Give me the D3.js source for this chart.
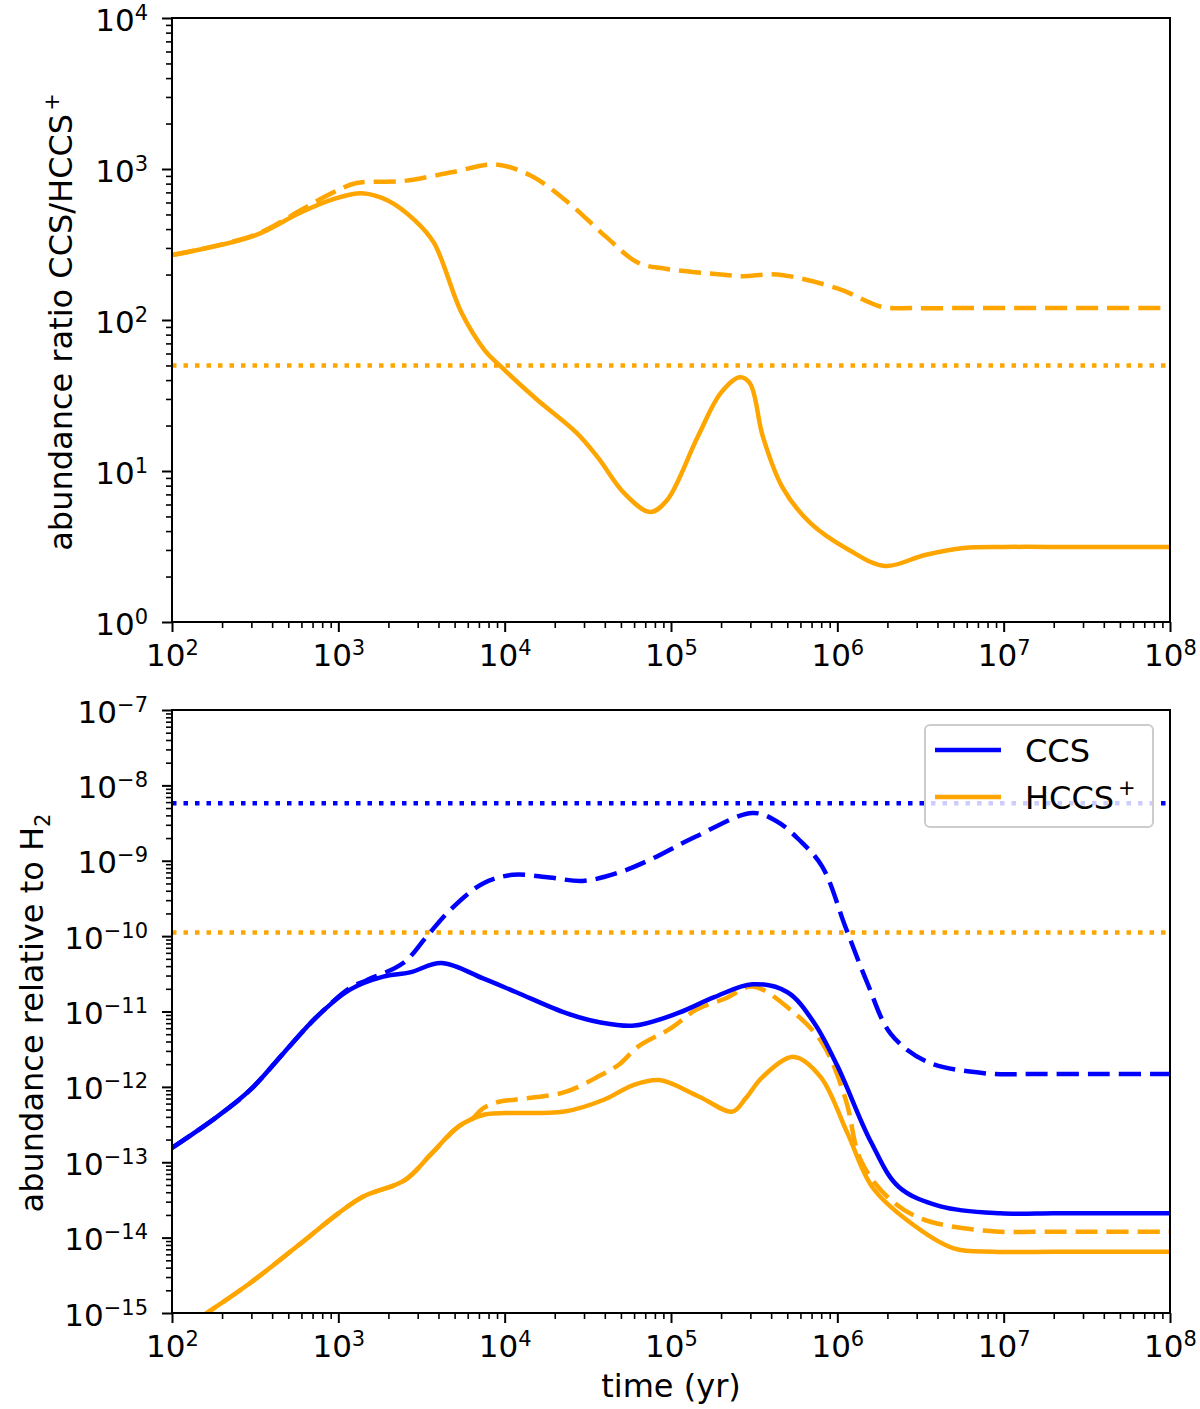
<!DOCTYPE html>
<html>
<head>
<meta charset="utf-8">
<script src="https://cdn.jsdelivr.net/npm/d3@7/dist/d3.min.js"></script>
<style>
  body { margin: 0; background: #fff; }
  text { font-family: "DejaVu Sans", sans-serif; fill: #000; }
</style>
</head>
<body>
<div id="chart"></div>
<script>
// ---- data (time given as log10 of years) ----
var ratioSolidTime = [2.0, 2.5, 2.77, 2.97, 3.14, 3.3, 3.46, 3.575, 3.74, 3.88, 3.97, 4.19, 4.43, 4.56, 4.72, 4.874, 4.976, 5.16, 5.30, 5.415, 5.475, 5.553, 5.67, 5.84, 6.07, 6.287, 6.527, 6.76, 7.0, 7.4, 7.7, 8.0];
var ratioSolid = [269, 363, 513, 631, 692, 617, 457, 324, 112, 63, 50, 30, 18, 12.3, 7.1, 5.35, 6.4, 16.8, 32.9, 41.7, 38, 16.8, 7.8, 4.5, 3.0, 2.35, 2.78, 3.09, 3.14, 3.14, 3.14, 3.14];

var ratioDashedTime = [2.0, 2.5, 2.77, 2.97, 3.11, 3.39, 3.69, 3.94, 4.15, 4.38, 4.61, 4.80, 4.96, 5.30, 5.43, 5.64, 6.00, 6.27, 6.45, 6.8, 7.2, 7.6, 8.0];
var ratioDashed = [269, 367, 531, 700, 807, 832, 955, 1072, 912, 603, 355, 240, 219, 200, 195, 200, 162, 122, 120, 120, 120, 120, 120];

var ratioObserved = 50;

var ccsSolidTime = [2.0, 2.27, 2.47, 2.67, 2.87, 3.07, 3.27, 3.43, 3.62, 3.87, 4.07, 4.37, 4.57, 4.78, 5.04, 5.26, 5.49, 5.70, 5.86, 6.0, 6.2, 6.37, 6.62, 6.98, 7.3, 7.6, 8.0];
var ccsSolid = [1.55e-13, 4.0e-13, 9.1e-13, 2.8e-12, 8.5e-12, 1.95e-11, 2.9e-11, 3.3e-11, 4.4e-11, 2.75e-11, 1.8e-11, 9.5e-12, 7.2e-12, 6.5e-12, 9.5e-12, 1.55e-11, 2.3e-11, 1.8e-11, 7.1e-12, 1.9e-12, 1.9e-13, 4.7e-14, 2.6e-14, 2.1e-14, 2.1e-14, 2.1e-14, 2.1e-14];

var ccsDashedTime = [2.0, 2.27, 2.47, 2.67, 2.87, 3.07, 3.17, 3.39, 3.53, 3.67, 3.87, 4.05, 4.27, 4.47, 4.68, 4.87, 5.15, 5.49, 5.63, 5.77, 5.91, 6.05, 6.18, 6.32, 6.53, 6.88, 7.2, 7.6, 8.0];
var ccsDashed = [1.55e-13, 4.0e-13, 9.1e-13, 2.8e-12, 8.5e-12, 2.05e-11, 2.6e-11, 4.4e-11, 9.8e-11, 2.2e-10, 5.0e-10, 6.5e-10, 6.0e-10, 5.4e-10, 6.9e-10, 1.02e-9, 2.1e-9, 4.3e-9, 3.4e-9, 1.9e-9, 8.3e-10, 1.3e-10, 2.4e-11, 5.1e-12, 2.2e-12, 1.52e-12, 1.48e-12, 1.48e-12, 1.48e-12];

var hccsSolidTime = [2.0, 2.21, 2.47, 2.75, 3.0, 3.15, 3.40, 3.56, 3.72, 3.88, 4.12, 4.36, 4.60, 4.77, 4.93, 5.17, 5.37, 5.45, 5.55, 5.74, 5.90, 6.06, 6.21, 6.42, 6.70, 6.94, 7.3, 7.6, 8.0];
var hccsSolid = [4.9e-16, 1.0e-15, 2.5e-15, 7.6e-15, 2.1e-14, 3.5e-14, 5.8e-14, 1.3e-13, 2.95e-13, 4.3e-13, 4.5e-13, 4.7e-13, 6.8e-13, 1.05e-12, 1.23e-12, 7.4e-13, 4.7e-13, 7.1e-13, 1.35e-12, 2.5e-12, 1.35e-12, 2.45e-13, 4.7e-14, 1.7e-14, 7.2e-15, 6.5e-15, 6.5e-15, 6.5e-15, 6.5e-15];

var hccsDashedTime = [2.0, 2.21, 2.47, 2.75, 3.0, 3.15, 3.40, 3.56, 3.72, 3.80, 3.87, 3.96, 4.07, 4.36, 4.57, 4.69, 4.80, 5.0, 5.15, 5.33, 5.49, 5.72, 5.91, 6.05, 6.14, 6.30, 6.50, 6.90, 7.3, 7.6, 8.0];
var hccsDashed = [4.9e-16, 1.0e-15, 2.5e-15, 7.6e-15, 2.1e-14, 3.5e-14, 5.8e-14, 1.3e-13, 2.95e-13, 3.7e-13, 5.2e-13, 6.3e-13, 6.8e-13, 8.5e-13, 1.4e-12, 2.0e-12, 3.4e-12, 6.0e-12, 1.05e-11, 1.5e-11, 2.15e-11, 1.05e-11, 3.8e-12, 6.8e-13, 1.07e-13, 3.5e-14, 1.8e-14, 1.23e-14, 1.2e-14, 1.2e-14, 1.2e-14];

var ccsObserved = 5.8e-9;
var hccsObserved = 1.12e-10;

var xTickExp = [2, 3, 4, 5, 6, 7, 8];
var topTickExp = [0, 1, 2, 3, 4];
var botTickExp = [-15, -14, -13, -12, -11, -10, -9, -8, -7];

var legendItems = [
  {name: "CCS", sup: "", color: "blue"},
  {name: "HCCS", sup: "+", color: "orange"}
];

// ---- layout ----
var W = 1200, H = 1409;
var left = 172, right = 1170;
var BLUE = "blue", ORANGE = "orange";
var FS = 32, FTICK = 31, FSUP = 21, LW = 4.5;

var svg = d3.select('#chart')
  .append('svg')
  .attr('width', W)
  .attr('height', H);

var x = d3.scaleLog().domain([1e2, 1e8]).range([left, right]);
var yTop = d3.scaleLog().domain([1, 1e4]).range([622, 18]);
var yBot = d3.scaleLog().domain([1e-15, 1e-7]).range([1313, 710]);

function minors(exps) {
  var out = [];
  for (var i = 0; i < exps.length - 1; i++) {
    for (var k = 2; k <= 9; k++) out.push(k * Math.pow(10, exps[i]));
  }
  return out;
}

function expText(e) {
  return e < 0 ? "\u2212" + (-e) : "" + e;
}

function pairs(times, vals) {
  return times.map(function(t, i) { return [Math.pow(10, t), vals[i]]; });
}

function powLabel(sel) {
  sel.style('font-size', FTICK + 'px');
  sel.append('tspan').text('10');
  sel.append('tspan').attr('dy', -11).style('font-size', FSUP + 'px')
    .text(function(d){ return expText(Math.round(Math.log10(d))); });
}

function drawPanel(y, yExps, id) {
  var top = y.range()[1], bottom = y.range()[0];
  var g = svg.append('g');

  g.append('clipPath').attr('id', id)
    .append('rect')
    .attr('x', left).attr('y', top)
    .attr('width', right - left).attr('height', bottom - top);

  var plot = g.append('g').attr('clip-path', 'url(#' + id + ')');

  // x axis: major + minor ticks
  var xMaj = g.append('g')
    .attr('transform', 'translate(0,' + bottom + ')')
    .call(d3.axisBottom(x).tickValues(xTickExp.map(function(e){ return Math.pow(10, e); }))
      .tickSize(10).tickSizeOuter(0).tickFormat(''));
  g.append('g')
    .attr('transform', 'translate(0,' + bottom + ')')
    .call(d3.axisBottom(x).tickValues(minors(xTickExp)).tickSize(6).tickSizeOuter(0).tickFormat(''))
    .call(function(a){ a.select('.domain').remove(); a.selectAll('line').attr('stroke-width', 1.6); });
  xMaj.select('.domain').remove();
  xMaj.selectAll('line').attr('stroke-width', 2);
  xMaj.selectAll('.tick').append('text')
    .attr('y', 44)
    .attr('text-anchor', 'middle')
    .call(powLabel);

  // y axis
  var yMaj = g.append('g')
    .attr('transform', 'translate(' + left + ',0)')
    .call(d3.axisLeft(y).tickValues(yExps.map(function(e){ return Math.pow(10, e); }))
      .tickSize(10).tickSizeOuter(0).tickFormat(''));
  g.append('g')
    .attr('transform', 'translate(' + left + ',0)')
    .call(d3.axisLeft(y).tickValues(minors(yExps)).tickSize(6).tickSizeOuter(0).tickFormat(''))
    .call(function(a){ a.select('.domain').remove(); a.selectAll('line').attr('stroke-width', 1.6); });
  yMaj.select('.domain').remove();
  yMaj.selectAll('line').attr('stroke-width', 2);
  yMaj.selectAll('.tick').append('text')
    .attr('x', -24)
    .attr('y', 12)
    .attr('text-anchor', 'end')
    .call(powLabel);

  return {g: g, plot: plot, top: top, bottom: bottom};
}

function addLine(panel, y, data, color, dash) {
  var line = d3.line()
    .x(function(d){ return x(d[0]); })
    .y(function(d){ return y(d[1]); })
    .curve(d3.curveCatmullRom.alpha(0.5));
  panel.plot.append('path')
    .datum(data)
    .attr('d', line)
    .attr('fill', 'none')
    .attr('stroke', color)
    .attr('stroke-width', LW)
    .attr('stroke-dasharray', dash || null);
}

function addLevel(panel, y, v, color) {
  addLine(panel, y, [[1e2, v], [1e8, v]], color, '4.5,7');
}

function frame(panel) {
  panel.g.append('rect')
    .attr('x', left).attr('y', panel.top)
    .attr('width', right - left).attr('height', panel.bottom - panel.top)
    .attr('fill', 'none').attr('stroke', '#000').attr('stroke-width', 2);
}

// ---- top panel: abundance ratio ----
var pTop = drawPanel(yTop, topTickExp, 'clipTop');
addLevel(pTop, yTop, ratioObserved, ORANGE);
addLine(pTop, yTop, pairs(ratioDashedTime, ratioDashed), ORANGE, '22,9');
addLine(pTop, yTop, pairs(ratioSolidTime, ratioSolid), ORANGE);
frame(pTop);

var lblTop = svg.append('text')
  .attr('transform', 'translate(72,322) rotate(-90)')
  .attr('text-anchor', 'middle')
  .style('font-size', FS + 'px');
lblTop.append('tspan').text('abundance ratio CCS/HCCS');
lblTop.append('tspan').attr('dy', -13).attr('dx', 3).style('font-size', FSUP + 'px').text('+');

// ---- bottom panel: abundances ----
var pBot = drawPanel(yBot, botTickExp, 'clipBot');
addLevel(pBot, yBot, ccsObserved, BLUE);
addLevel(pBot, yBot, hccsObserved, ORANGE);
addLine(pBot, yBot, pairs(ccsDashedTime, ccsDashed), BLUE, '22,9');
addLine(pBot, yBot, pairs(hccsDashedTime, hccsDashed), ORANGE, '22,9');
addLine(pBot, yBot, pairs(ccsSolidTime, ccsSolid), BLUE);
addLine(pBot, yBot, pairs(hccsSolidTime, hccsSolid), ORANGE);
frame(pBot);

var lblBot = svg.append('text')
  .attr('transform', 'translate(43,1013) rotate(-90)')
  .attr('text-anchor', 'middle')
  .style('font-size', FS + 'px');
lblBot.append('tspan').text('abundance relative to H');
lblBot.append('tspan').attr('dy', 7).style('font-size', FSUP + 'px').text('2');

svg.append('text')
  .attr('x', (left + right) / 2)
  .attr('y', 1397)
  .attr('text-anchor', 'middle')
  .style('font-size', FS + 'px')
  .text('time (yr)');

// legend
var leg = svg.append('g');
leg.append('rect')
  .attr('x', 925).attr('y', 725)
  .attr('width', 228).attr('height', 102)
  .attr('rx', 5)
  .attr('fill', 'rgba(255,255,255,0.8)')
  .attr('stroke', '#cccccc')
  .attr('stroke-width', 2);
var li = leg.selectAll('g.item')
  .data(legendItems)
  .enter()
  .append('g')
  .attr('transform', function(d, i){ return 'translate(0,' + (750 + i * 47) + ')'; });
li.append('line')
  .attr('x1', 935).attr('x2', 1001)
  .attr('stroke', function(d){ return d.color; })
  .attr('stroke-width', LW);
var lt = li.append('text')
  .attr('x', 1025)
  .attr('y', 12)
  .style('font-size', FS + 'px');
lt.append('tspan').text(function(d){ return d.name; });
lt.append('tspan').attr('dx', 4).attr('dy', -14).style('font-size', FSUP + 'px')
  .text(function(d){ return d.sup; });
</script>
</body>
</html>
